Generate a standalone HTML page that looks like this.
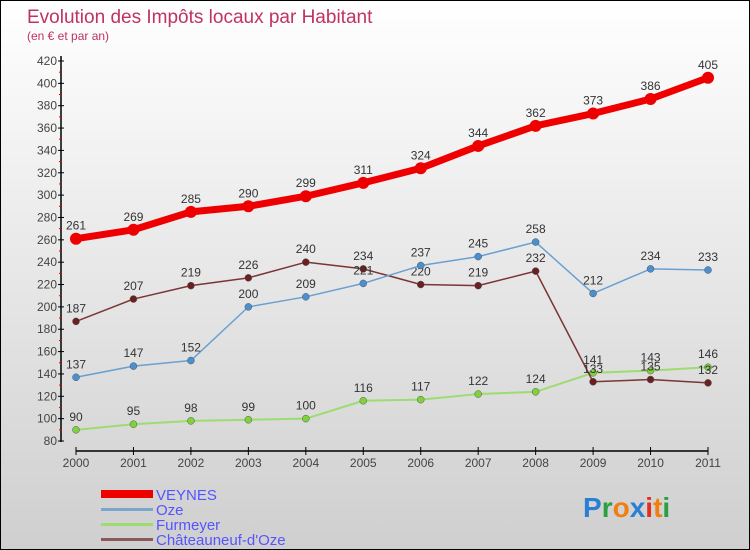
<!DOCTYPE html>
<html><head><meta charset="utf-8"><style>
body{margin:0}
#c{width:750px;height:550px;position:relative;overflow:hidden;box-sizing:border-box;border:1px solid #000;background:linear-gradient(#ffffff,#cfcfcf);font-family:"Liberation Sans",sans-serif}
</style></head><body>
<div id="c">
<svg id="s" width="750" height="550" style="position:absolute;left:0;top:0">
<text x="26" y="22" font-size="19" fill="#c0325f">Evolution des Impôts locaux par Habitant</text>
<text x="26" y="39" font-size="12" fill="#c0325f">(en € et par an)</text>
<g id="axes"></g><g id="series"></g>
<g>
<rect x="100" y="489" width="52" height="8" fill="#ee0000"/>
<text x="155" y="499" font-size="15" fill="#5555ff">VEYNES</text>
<rect x="100" y="507" width="52" height="3" fill="#7aa6cc"/>
<text x="155" y="514" font-size="15" fill="#5555ff">Oze</text>
<rect x="100" y="522" width="52" height="3" fill="#9ddc6e"/>
<text x="155" y="529" font-size="15" fill="#5555ff">Furmeyer</text>
<rect x="100" y="537" width="52" height="3" fill="#8a5a5a"/>
<text x="155" y="544" font-size="15" fill="#5555ff">Châteauneuf-d'Oze</text>
</g>
<text x="582" y="516" font-size="28" font-weight="bold"><tspan fill="#2a7fd4">P</tspan><tspan fill="#2aa040">r</tspan><tspan fill="#f07f10">o</tspan><tspan fill="#2a7fd4">x</tspan><tspan fill="#e03020">i</tspan><tspan fill="#f07f10">t</tspan><tspan fill="#2aa040">i</tspan></text>
</svg>
</div>
<script>
const years=[2000,2001,2002,2003,2004,2005,2006,2007,2008,2009,2010,2011];
const veynes=[261,269,285,290,299,311,324,344,362,373,386,405];
const oze=[137,147,152,200,209,221,237,245,258,212,234,233];
const furmeyer=[90,95,98,99,100,116,117,122,124,141,143,146];
const chateauneuf=[187,207,219,226,240,234,220,219,232,133,135,132];
const yTicks=[80,100,120,140,160,180,200,220,240,260,280,300,320,340,360,380,400,420];
const NS="http://www.w3.org/2000/svg";
const X=i=>75+i*(707-75)/11;
const Y=v=>440-(v-80)*(380/340);
function mk(t,a,p){const e=document.createElementNS(NS,t);for(const k in a)e.setAttribute(k,a[k]);p.appendChild(e);return e;}
const ax=document.getElementById('axes');
let l=mk('line',{x1:60,y1:55,x2:60,y2:441,stroke:'#000','stroke-width':1.5},ax);


l=mk('line',{x1:75,y1:450,x2:707,y2:450,stroke:'#000','stroke-width':1.5},ax);


yTicks.forEach(v=>{
 mk('line',{x1:57,y1:Y(v),x2:63,y2:Y(v),stroke:'#000'},ax);
 if(v<420)mk('line',{x1:58,y1:Y(v+10),x2:61,y2:Y(v+10),stroke:'#d00'},ax);
 const t=mk('text',{x:56,y:Y(v)+4,'font-size':12,fill:'#444','text-anchor':'end'},ax);t.textContent=v;
 
 
});
years.forEach((y,i)=>{
 mk('line',{x1:X(i),y1:446,x2:X(i),y2:454,stroke:'#000'},ax);
 const t=mk('text',{x:X(i),y:466,'font-size':12,fill:'#444','text-anchor':'middle'},ax);t.textContent=y;
 
 
});
const sg=document.getElementById('series');
function draw(vals,color,dot,w,r,name,fs){
 const g=mk('g',{},sg);
 
 
 mk('polyline',{points:vals.map((v,i)=>X(i)+','+Y(v)).join(' '),fill:'none',stroke:color,'stroke-width':w,'stroke-linejoin':'round'},g);
 vals.forEach((v,i)=>{
  const c=mk('circle',{cx:X(i),cy:Y(v),r:r,fill:dot,stroke:color==dot?'none':'#555','stroke-width':0.5},g);
  
  
  const t=mk('text',{x:X(i),y:Y(v)-9,'font-size':fs,fill:'#333','text-anchor':'middle'},g);t.textContent=v;
  
  
 });
}
draw(furmeyer,'#9ddc6e','#7ed23c',2,3.5,'furmeyer',12);
draw(chateauneuf,'#7a3535','#6a2020',1.5,3.5,'chateauneuf',12);
draw(oze,'#6aa0d0','#4a90d0',1.5,3.5,'oze',12);
draw(veynes,'#ee0000','#ee0000',7,6,'veynes',12);
</script>
</body></html>
